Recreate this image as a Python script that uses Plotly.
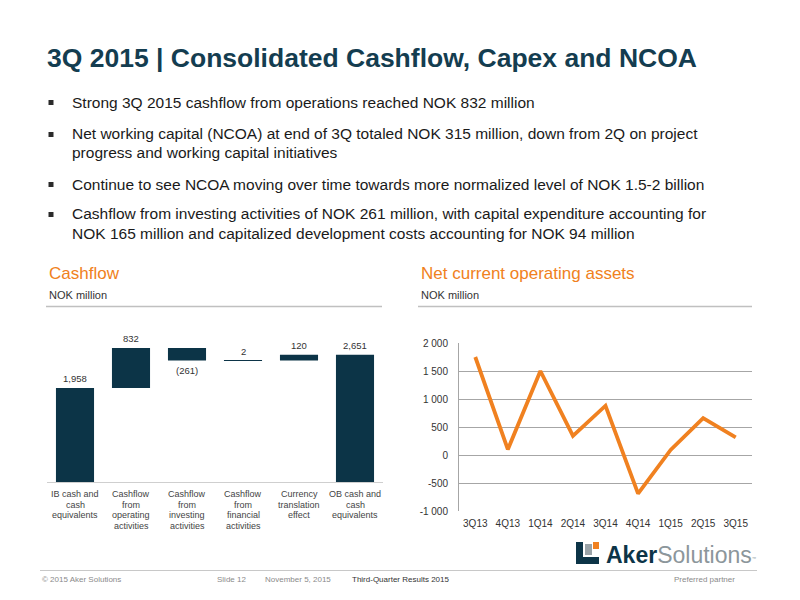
import plotly.graph_objects as go

# ---------------- data ----------------
cf_categories = [
    "IB cash and<br>cash<br>equivalents",
    "Cashflow<br>from<br>operating<br>activities",
    "Cashflow<br>from<br>investing<br>activities",
    "Cashflow<br>from<br>financial<br>activities",
    "Currency<br>translation<br>effect",
    "OB cash and<br>cash<br>equivalents",
]
cf_values = [1958, 832, -261, 2, 120, 2651]
cf_measures = ["absolute", "relative", "relative", "relative", "relative", "total"]

ncoa_quarters = ["3Q13", "4Q13", "1Q14", "2Q14", "3Q14", "4Q14", "1Q15", "2Q15", "3Q15"]
ncoa_values = [1750, 100, 1500, 340, 880, -690, 90, 660, 315]
ncoa_ticks = [-1000, -500, 0, 500, 1000, 1500, 2000]

title_text = "3Q 2015 | Consolidated Cashflow, Capex and NCOA"
bullets = [
    ["Strong 3Q 2015 cashflow from operations reached NOK 832 million"],
    ["Net working capital (NCOA) at end of 3Q totaled NOK 315 million, down from 2Q on project",
     "progress and working capital initiatives"],
    ["Continue to see NCOA moving over time towards more normalized level of NOK 1.5-2 billion"],
    ["Cashflow from investing activities of NOK 261 million, with capital expenditure accounting for",
     "NOK 165 million and capitalized development costs accounting for NOK 94 million"],
]

# ---------------- style ----------------
W, H = 800, 600
OFF = 8  # page body margin of the html page
FONT = "Liberation Sans, Arial, sans-serif"
NAVY = "#0c3447"
TITLE_C = "#143d50"
ORANGE = "#f08120"
GRID = "#a6a6a6"


def px(x):
    return (x - OFF) / W


def py(y):
    return 1 - (y - OFF) / H


fig = go.Figure()

fig.add_trace(go.Waterfall(
    x=cf_categories, y=cf_values, measure=cf_measures,
    increasing=dict(marker=dict(color=NAVY)),
    decreasing=dict(marker=dict(color=NAVY)),
    totals=dict(marker=dict(color=NAVY)),
    connector=dict(visible=False),
    xaxis="x", yaxis="y", showlegend=False, hoverinfo="skip",
))

fig.add_trace(go.Scatter(
    x=ncoa_quarters, y=ncoa_values, mode="lines",
    line=dict(color=ORANGE, width=3.8),
    xaxis="x2", yaxis="y2", showlegend=False, hoverinfo="skip",
))

annotations = []
shapes = []

# waterfall value labels
running = 0
for cat, v, m in zip(cf_categories, cf_values, cf_measures):
    if m == "absolute":
        lo, hi = 0, v
        running = v
    elif m == "total":
        lo, hi = 0, running
    else:
        lo, hi = running, running + v
        running += v
    label = f"{v:,}" if v >= 0 else f"({abs(v):,})"
    if v >= 0:
        annotations.append(dict(x=cat, y=max(lo, hi), xref="x", yref="y", text=label,
                                showarrow=False, yanchor="bottom", yshift=2,
                                font=dict(family=FONT, size=9.5, color="#333333")))
    else:
        annotations.append(dict(x=cat, y=min(lo, hi), xref="x", yref="y", text=label,
                                showarrow=False, yanchor="top", yshift=-2,
                                font=dict(family=FONT, size=9.5, color="#333333")))

# waterfall category labels, line by line
for cat in cf_categories:
    for i, line in enumerate(cat.split("<br>")):
        annotations.append(dict(x=cat, y=py(494 + i * 10.5), xref="x", yref="paper",
                                text=line, showarrow=False, yanchor="middle",
                                font=dict(family=FONT, size=9, color="#444444")))

# title
annotations.append(dict(x=px(45), y=py(58), xref="paper", yref="paper", text=f"<b>{title_text}</b>",
                        showarrow=False, xanchor="left", yanchor="middle",
                        font=dict(family=FONT, size=26.5, color=TITLE_C)))

# bullets
ys = [[102], [134, 152], [184], [214, 233]]
for lines, yl in zip(bullets, ys):
    shapes.append(dict(type="rect", xref="paper", yref="paper",
                       x0=px(48.5), x1=px(53.5), y0=py(yl[0] + 3), y1=py(yl[0] - 2),
                       fillcolor="#2a2a2a", line=dict(width=0)))
    for line, yy in zip(lines, yl):
        annotations.append(dict(x=px(70), y=py(yy), xref="paper", yref="paper", text=line,
                                showarrow=False, xanchor="left", yanchor="middle",
                                font=dict(family=FONT, size=15.5, color="#1a1a1a")))

# section headers
for x0, x1, head in [(46, 382, "Cashflow"), (418, 752, "Net current operating assets")]:
    annotations.append(dict(x=px(x0 + 1), y=py(273), xref="paper", yref="paper", text=head,
                            showarrow=False, xanchor="left", yanchor="middle",
                            font=dict(family=FONT, size=17, color=ORANGE)))
    annotations.append(dict(x=px(x0 + 1), y=py(295), xref="paper", yref="paper", text="NOK million",
                            showarrow=False, xanchor="left", yanchor="middle",
                            font=dict(family=FONT, size=11, color="#333333")))
    shapes.append(dict(type="line", xref="paper", yref="paper", x0=px(x0), x1=px(x1),
                       y0=py(306.5), y1=py(306.5), line=dict(color="#c0c0c0", width=1.5)))

# footer
shapes.append(dict(type="line", xref="paper", yref="paper", x0=px(40), x1=px(757),
                   y0=py(570.5), y1=py(570.5), line=dict(color="#c8c8c8", width=1)))
footer = [(40, "© 2015 Aker Solutions", "#8a8a8a", "left"),
          (215, "Slide 12", "#8a8a8a", "left"),
          (263, "November 5, 2015", "#8a8a8a", "left"),
          (350, "Third-Quarter Results 2015", "#333333", "left"),
          (737, "Preferred partner", "#8a8a8a", "right")]
for x, t, c, anc in footer:
    annotations.append(dict(x=px(x), y=py(579), xref="paper", yref="paper", text=t,
                            showarrow=False, xanchor=anc, yanchor="middle",
                            font=dict(family=FONT, size=8, color=c)))

# logo
shapes += [
    dict(type="rect", xref="paper", yref="paper", x0=px(576), x1=px(583), y0=py(564), y1=py(542),
         fillcolor=NAVY, line=dict(width=0)),
    dict(type="rect", xref="paper", yref="paper", x0=px(576), x1=px(599), y0=py(564), y1=py(557),
         fillcolor=NAVY, line=dict(width=0)),
    dict(type="rect", xref="paper", yref="paper", x0=px(585), x1=px(592), y0=py(555), y1=py(544),
         fillcolor="#9aa3a8", line=dict(width=0)),
    dict(type="rect", xref="paper", yref="paper", x0=px(593), x1=px(599), y0=py(549), y1=py(542),
         fillcolor=ORANGE, line=dict(width=0)),
]
annotations.append(dict(x=px(604), y=py(555), xref="paper", yref="paper",
                        text="<b>Aker</b><span style='color:#8c969b'>Solutions</span>"
                             "<span style='font-size:6px;color:#8c969b'><sup>™</sup></span>",
                        showarrow=False, xanchor="left", yanchor="middle",
                        font=dict(family=FONT, size=23, color=NAVY)))

fig.update_layout(
    template="none",
    width=W, height=H, margin=dict(l=0, r=0, t=0, b=0, pad=0, autoexpand=False),
    paper_bgcolor="white", plot_bgcolor="white",
    waterfallgap=0.32, showlegend=False,
    xaxis=dict(domain=[px(47), px(383)], showticklabels=False, ticks="", automargin=False,
               showline=True, linecolor="#cfcfcf", linewidth=1, showgrid=False, zeroline=False),
    yaxis=dict(domain=[py(482), py(338)], range=[0, 3000], visible=False, showgrid=False,
               zeroline=False, automargin=False),
    xaxis2=dict(domain=[px(459), px(752)], anchor="y2", showgrid=False, showline=False,
                range=[-0.5, len(ncoa_quarters) - 0.5], automargin=False, zeroline=False,
                ticks="", ticklabelstandoff=5,
                tickfont=dict(family=FONT, size=10, color="#333333")),
    yaxis2=dict(domain=[py(511), py(343)], anchor="x2", range=[-1000, 2000], automargin=False,
                tickvals=ncoa_ticks, ticktext=[f"{v:,}".replace(",", " ") for v in ncoa_ticks],
                showgrid=True, gridcolor=GRID, gridwidth=1, zeroline=False,
                showline=True, linecolor=GRID, linewidth=1, ticks="", ticklabelstandoff=8,
                tickfont=dict(family=FONT, size=10, color="#333333")),
    annotations=annotations, shapes=shapes,
)

fig.write_html("out.html")
